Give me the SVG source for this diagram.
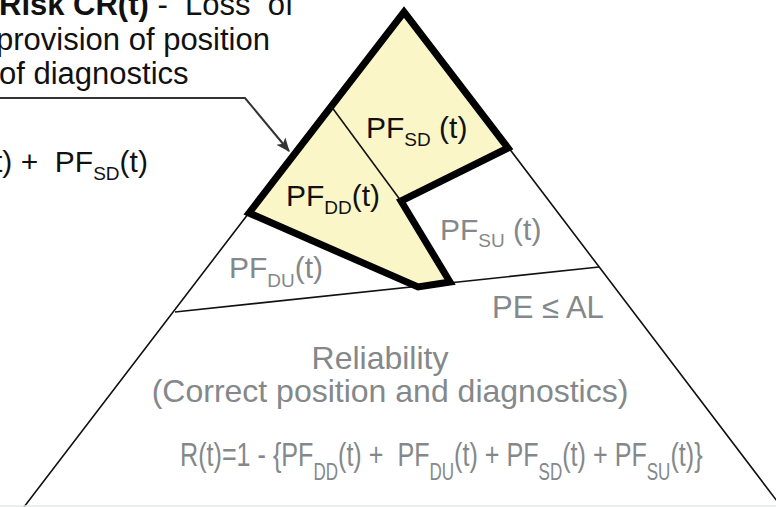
<svg xmlns="http://www.w3.org/2000/svg" width="776" height="507" viewBox="0 0 776 507">
  <style>
    text { font-family: "Liberation Sans", Arial, sans-serif; white-space: pre; }
    .blk { fill: #111111; }
    .gry { fill: #84888a; }
    .thin { fill: none; stroke: #111111; stroke-width: 1.6; }
    .thick { fill: #faf6c8; stroke: #000000; stroke-width: 7; stroke-linejoin: miter; }
    .conn { fill: none; stroke: #333333; stroke-width: 2; }
  </style>
  <defs>
    <marker id="arrow" markerWidth="14" markerHeight="14" refX="11" refY="5" orient="auto" markerUnits="userSpaceOnUse" viewBox="0 0 12 10">
      <path d="M0,0 L12,5 L0,10 L3,5 Z" fill="#333333"/>
    </marker>
  </defs>
  <rect width="776" height="507" fill="#ffffff"/>

  <!-- Pyramid outline and dividers -->
  <g id="pyramid">
    <polyline class="thin" points="24,507 404,10 780,505"/>
    <line class="thin" x1="175" y1="312" x2="599" y2="267"/>
    <line x1="0" y1="506" x2="776" y2="506" stroke="#e6e8e8" stroke-width="1.5"/>
  </g>

  <!-- Risk region (yellow) -->
  <g id="risk-region">
    <polygon class="thick" points="404,12 508,148 401,201 450,282 418,287 249,213"/>
    <line class="thin" x1="331" y1="106" x2="401" y2="201"/>
  </g>

  <g id="pf-sd">
    <text class="blk" x="366" y="138" font-size="30">PF<tspan font-size="19" dy="8">SD</tspan><tspan dy="-8"> (t)</tspan></text>
  </g>
  <g id="pf-dd">
    <text class="blk" x="286" y="206" font-size="30">PF<tspan font-size="19" dy="8">DD</tspan><tspan dy="-8">(t)</tspan></text>
  </g>
  <g id="pf-su">
    <text class="gry" x="440" y="240" font-size="30">PF<tspan font-size="19" dy="7">SU</tspan><tspan dy="-7"> (t)</tspan></text>
  </g>
  <g id="pf-du">
    <text class="gry" x="229" y="278" font-size="30">PF<tspan font-size="19" dy="9">DU</tspan><tspan dy="-9">(t)</tspan></text>
  </g>
  <g id="pe-al">
    <text class="gry" x="492" y="318" font-size="31">PE ≤ AL</text>
  </g>
  <g id="reliability">
    <text class="gry" x="380" y="369" font-size="32" text-anchor="middle">Reliability</text>
    <text class="gry" x="390" y="402" font-size="32" text-anchor="middle">(Correct position and diagnostics)</text>
    <text class="gry" transform="translate(180,466) scale(0.74,1)" x="0" y="0" font-size="34">R(t)=1 - {PF<tspan font-size="23" dy="14">DD</tspan><tspan dy="-14">(t) +  PF</tspan><tspan font-size="23" dy="14">DU</tspan><tspan dy="-14">(t) + PF</tspan><tspan font-size="23" dy="14">SD</tspan><tspan dy="-14">(t) + PF</tspan><tspan font-size="23" dy="14">SU</tspan><tspan dy="-14">(t)}</tspan></text>
  </g>

  <!-- Risk label -->
  <g id="risk-label">
    <text class="blk" x="-1" y="15" font-size="31"><tspan font-weight="bold">Risk CR(t)</tspan> -  Loss  of</text>
    <text class="blk" x="-4" y="50" font-size="31">provision of position</text>
    <text class="blk" x="-1" y="84" font-size="31">of diagnostics</text>
    <text class="blk" x="-6" y="172" font-size="30">t) +  PF<tspan font-size="19" dy="8">SD</tspan><tspan dy="-8">(t)</tspan></text>
  </g>

  <g id="connectors">
    <polyline class="conn" points="0,98 245,98 289,151" marker-end="url(#arrow)"/>
  </g>
</svg>
